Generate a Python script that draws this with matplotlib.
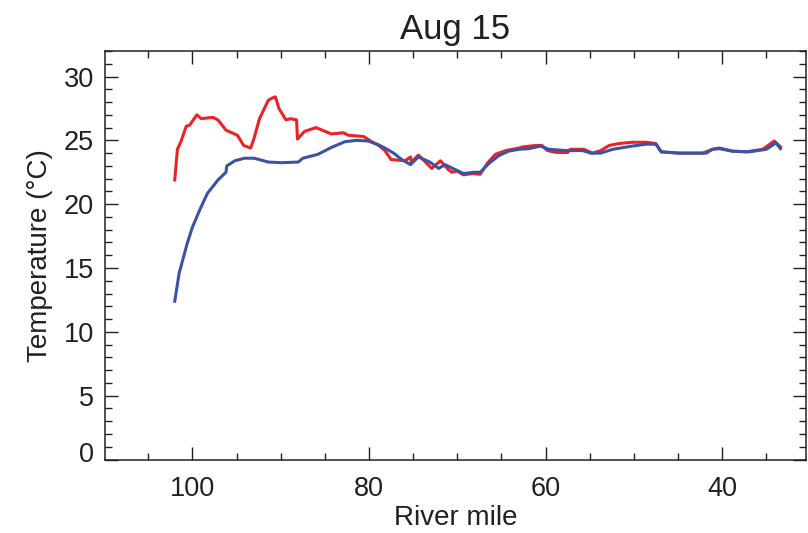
import numpy as np
import matplotlib.pyplot as plt
from matplotlib.ticker import MultipleLocator
import matplotlib.transforms as mtransforms

plt.rcParams['font.family'] = ['Liberation Sans', 'DejaVu Sans']

# Datos: milla del río y temperatura (°C)
milla_obs = [102.0, 101.7, 101.3, 100.7, 100.3, 99.5, 99.0, 97.7, 97.1, 96.2, 94.9,
             94.2, 93.4, 93.0, 92.4, 91.4, 90.7, 90.6, 90.2, 89.4, 88.9, 88.2, 88.1,
             87.3, 86.0, 84.25, 82.9, 82.35, 80.6, 79.7, 78.9, 78.2, 77.5, 75.9, 75.3,
             75.2, 74.4, 73.6, 72.9, 71.9, 71.0, 70.6, 70.05, 69.3, 68.3, 67.4, 66.6,
             65.7, 64.5, 63.0, 62.5, 61.1, 60.4, 59.8, 58.7, 57.5, 57.2, 55.65, 54.7,
             53.75, 52.8, 51.7, 50.2, 48.6, 47.5, 46.9, 44.85, 42.2, 41.1, 40.3, 38.8,
             37.3, 35.4, 34.1, 33.4]
temp_obs = [21.9, 24.3, 24.9, 26.1, 26.2, 27.0, 26.7, 26.8, 26.6, 25.8, 25.4,
            24.6, 24.4, 25.2, 26.7, 28.15, 28.4, 28.4, 27.5, 26.6, 26.7, 26.6, 25.1,
            25.7, 26.0, 25.5, 25.6, 25.4, 25.3, 24.9, 24.6, 24.2, 23.5, 23.4, 23.7,
            23.3, 23.85, 23.3, 22.8, 23.4, 22.7, 22.5, 22.6, 22.3, 22.4, 22.35, 23.2,
            23.9, 24.2, 24.4, 24.5, 24.6, 24.6, 24.2, 24.05, 24.05, 24.3, 24.3, 24.0,
            24.2, 24.6, 24.75, 24.85, 24.85, 24.75, 24.1, 24.0, 24.0, 24.3, 24.4, 24.15,
            24.1, 24.3, 24.95, 24.5]

milla_mod = [102.0, 101.5, 100.6, 100.0, 99.2, 98.3, 97.1, 96.2, 96.1, 95.2, 94.1,
             93.0, 91.4, 89.9, 88.0, 87.5, 85.8, 84.25, 82.7, 81.4, 80.1, 78.9, 78.2,
             77.2, 76.3, 75.3, 74.4, 73.1, 72.1, 71.4, 70.2, 69.3, 68.1, 67.4, 66.4,
             65.3, 64.2, 63.0, 61.9, 60.6, 59.6, 57.7, 55.8, 54.9, 53.75, 52.4, 50.2,
             48.6, 47.5, 46.9, 44.85, 41.8, 41.1, 40.3, 38.8, 36.9, 35.0, 33.9, 33.4]
temp_mod = [12.4, 14.6, 16.9, 18.2, 19.5, 20.85, 21.9, 22.5, 23.0, 23.4, 23.6,
            23.6, 23.3, 23.25, 23.3, 23.6, 23.9, 24.45, 24.9, 25.0, 24.95, 24.65, 24.4,
            24.0, 23.5, 23.1, 23.7, 23.3, 22.8, 23.1, 22.7, 22.4, 22.5, 22.5, 23.2,
            23.8, 24.15, 24.3, 24.35, 24.55, 24.3, 24.2, 24.2, 24.0, 24.0, 24.3, 24.55,
            24.7, 24.7, 24.1, 24.0, 24.0, 24.3, 24.35, 24.15, 24.1, 24.3, 24.8, 24.35]

fig = plt.figure(figsize=(8.08, 5.33), dpi=100)
ax = fig.add_axes([105/808, 1 - 459.5/533, (806-105)/808, (459.5-51)/533])

ax.plot(milla_obs, temp_obs, color='#ec2227', lw=2.2)
ax.plot(milla_mod, temp_mod, color='#3a53a4', lw=2.2)

ax.set_xlim(109.9, 30.5)
ax.set_ylim(0, 32)
ax.xaxis.set_major_locator(MultipleLocator(20))
ax.xaxis.set_minor_locator(MultipleLocator(5))
ax.yaxis.set_major_locator(MultipleLocator(5))
ax.yaxis.set_minor_locator(MultipleLocator(1))
ax.tick_params(which='both', direction='in', top=True, right=True, width=1.0,
               labelsize=19.5, colors='#231f20')
ax.tick_params(which='major', length=9.5, pad=8)
ax.tick_params(axis='x', which='major', pad=12)
ax.tick_params(which='minor', length=5)
for s in ax.spines.values():
    s.set_linewidth(1.1)
    s.set_color('#231f20')

# la etiqueta 0 está un poco más arriba en el original
fig.canvas.draw()
for lbl in ax.get_yticklabels():
    if lbl.get_text() == '0':
        lbl.set_transform(lbl.get_transform() + mtransforms.ScaledTranslation(0, 7/100, fig.dpi_scale_trans))

ax.set_xlabel('River mile', fontsize=20, color='#231f20', labelpad=2)
ax.set_ylabel('Temperature (°C)', fontsize=20, color='#231f20', labelpad=8)
ax.set_title('Aug 15', fontsize=25, color='#231f20', pad=9)

fig.savefig('out.png', dpi=100)
